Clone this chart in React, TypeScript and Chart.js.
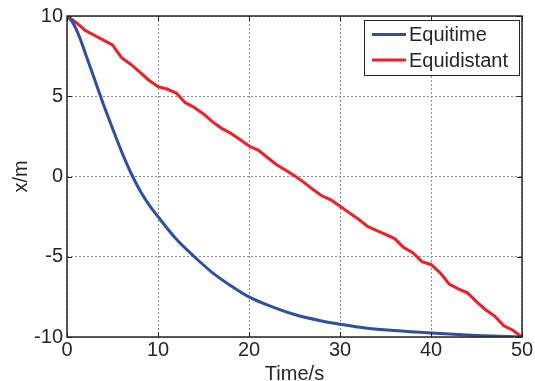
import React, { useEffect, useRef } from "react";
import { Chart, registerables } from "chart.js";

Chart.register(...registerables);

const seriesNames = ["Equitime", "Equidistant"];
const seriesColors = ["#2f4fa3", "#ee1f26"];

const xTicks = [0, 10, 20, 30, 40, 50];
const yTicks = [-10, -5, 0, 5, 10];

const equitimeT = [0, 0.5, 1, 1.5, 2, 3, 4, 5, 6, 7, 8, 9, 10, 12, 14, 16, 18, 20, 22, 25, 28, 30, 33, 36, 40, 45, 50];
const equitimeX = [10, 9.7, 9.2, 8.5, 7.7, 6.1, 4.5, 3.0, 1.55, 0.25, -0.85, -1.75, -2.5, -3.9, -5.0, -6.0, -6.8, -7.5, -8.0, -8.6, -9.0, -9.2, -9.45, -9.6, -9.75, -9.9, -10];

const equidistantT = [0, 1, 2, 3, 4, 5, 5.5, 6, 7, 8, 9, 10, 11, 12, 13, 14, 15, 16, 17, 18, 19, 20, 21, 22, 23, 24, 25, 26, 27, 28, 29, 30, 31, 32, 33, 34, 35, 36, 37, 38, 39, 40, 41, 42, 43, 44, 45, 46, 47, 48, 49, 50];
const equidistantX = [10, 9.6, 9.1, 8.8, 8.5, 8.2, 7.8, 7.4, 7.0, 6.5, 6.0, 5.6, 5.45, 5.2, 4.6, 4.3, 3.9, 3.4, 3.0, 2.7, 2.3, 1.9, 1.65, 1.2, 0.75, 0.4, 0.05, -0.35, -0.8, -1.2, -1.45, -1.85, -2.25, -2.65, -3.1, -3.35, -3.6, -3.87, -4.42, -4.75, -5.3, -5.48, -6.0, -6.7, -7.0, -7.25, -7.8, -8.3, -8.7, -9.3, -9.58, -10];

const FONT = "'Liberation Sans', Arial, sans-serif";
const TEXT = "#262626";

const framePlugin = {
  id: "frameAndLegend",
  afterDraw(chart: any) {
    const { ctx, chartArea: a, scales } = chart;
    ctx.save();
    // inward tick marks
    ctx.strokeStyle = "#262626";
    ctx.lineWidth = 1;
    ctx.beginPath();
    xTicks.forEach((v) => {
      const px = Math.round(scales.x.getPixelForValue(v)) + 0.5;
      ctx.moveTo(px, a.bottom);
      ctx.lineTo(px, a.bottom - 5);
      ctx.moveTo(px, a.top);
      ctx.lineTo(px, a.top + 5);
    });
    yTicks.forEach((v) => {
      const py = Math.round(scales.y.getPixelForValue(v)) + 0.5;
      ctx.moveTo(a.left, py);
      ctx.lineTo(a.left + 5, py);
      ctx.moveTo(a.right, py);
      ctx.lineTo(a.right - 5, py);
    });
    ctx.stroke();
    // frame
    ctx.lineWidth = 1.5;
    ctx.strokeStyle = "#262626";
    ctx.strokeRect(a.left, a.top, a.right - a.left, a.bottom - a.top);

    // legend
    const bx = 364, by = 20, bw = 155, bh = 55;
    ctx.fillStyle = "#ffffff";
    ctx.fillRect(bx, by, bw, bh);
    ctx.lineWidth = 1;
    ctx.strokeStyle = "#262626";
    ctx.strokeRect(bx + 0.5, by + 0.5, bw, bh);
    const rows = [34.5, 60];
    chart.data.datasets.forEach((ds: any, i: number) => {
      const y = rows[i];
      ctx.strokeStyle = ds.borderColor;
      ctx.lineWidth = 3;
      ctx.beginPath();
      ctx.moveTo(372, y);
      ctx.lineTo(406, y);
      ctx.stroke();
      ctx.fillStyle = TEXT;
      ctx.font = `20px ${FONT}`;
      ctx.textAlign = "left";
      ctx.textBaseline = "middle";
      ctx.fillText(ds.label, 409, y + 1);
    });
    ctx.restore();
  },
};

export default function App() {
  const ref = useRef<HTMLCanvasElement>(null);

  useEffect(() => {
    if (!ref.current) return;
    const mk = (t: number[], v: number[]) => t.map((x, i) => ({ x, y: v[i] }));
    const chart = new Chart(ref.current, {
      type: "line",
      data: {
        datasets: [
          {
            label: seriesNames[0],
            data: mk(equitimeT, equitimeX),
            borderColor: seriesColors[0],
            borderWidth: 3,
            pointRadius: 0,
            cubicInterpolationMode: "monotone",
            fill: false,
          },
          {
            label: seriesNames[1],
            data: mk(equidistantT, equidistantX),
            borderColor: seriesColors[1],
            borderWidth: 3,
            pointRadius: 0,
            tension: 0,
            fill: false,
          },
        ],
      },
      options: {
        animation: false,
        responsive: false,
        devicePixelRatio: 1,
        layout: { padding: { left: 0, right: 13, top: 14, bottom: 0 } },
        plugins: { legend: { display: false }, tooltip: { enabled: false } },
        scales: {
          x: {
            type: "linear",
            min: 0,
            max: 50,
            afterBuildTicks: (s: any) => {
              s.ticks = xTicks.map((v) => ({ value: v }));
            },
            afterFit: (s: any) => {
              s.height = 44;
            },
            ticks: {
              color: TEXT,
              font: { family: FONT, size: 20 },
              padding: 1,
              maxRotation: 0,
            },
            grid: { color: "#8c8c8c", drawTicks: false, lineWidth: 1 },
            border: { display: false, dash: [2, 2] },
            title: {
              display: true,
              text: "Time/s",
              color: TEXT,
              font: { family: FONT, size: 20, lineHeight: 1 },
              padding: { top: 0, bottom: -3 },
            },
          },
          y: {
            type: "linear",
            min: -10,
            max: 10,
            afterBuildTicks: (s: any) => {
              s.ticks = yTicks.map((v) => ({ value: v }));
            },
            afterFit: (s: any) => {
              s.width = 67;
            },
            ticks: {
              color: TEXT,
              font: { family: FONT, size: 20 },
              padding: 4,
            },
            grid: { color: "#8c8c8c", drawTicks: false, lineWidth: 1 },
            border: { display: false, dash: [2, 2] },
            title: {
              display: true,
              text: "x/m",
              color: TEXT,
              font: { family: FONT, size: 20, lineHeight: 1 },
              padding: { top: 11, bottom: 0 },
            },
          },
        },
      },
      plugins: [framePlugin],
    });
    return () => chart.destroy();
  }, []);

  return (
    <div style={{ position: "absolute", left: 0, top: 0, width: 535, height: 381, background: "#fff" }}>
      <canvas ref={ref} width={535} height={381} style={{ display: "block" }} />
    </div>
  );
}
